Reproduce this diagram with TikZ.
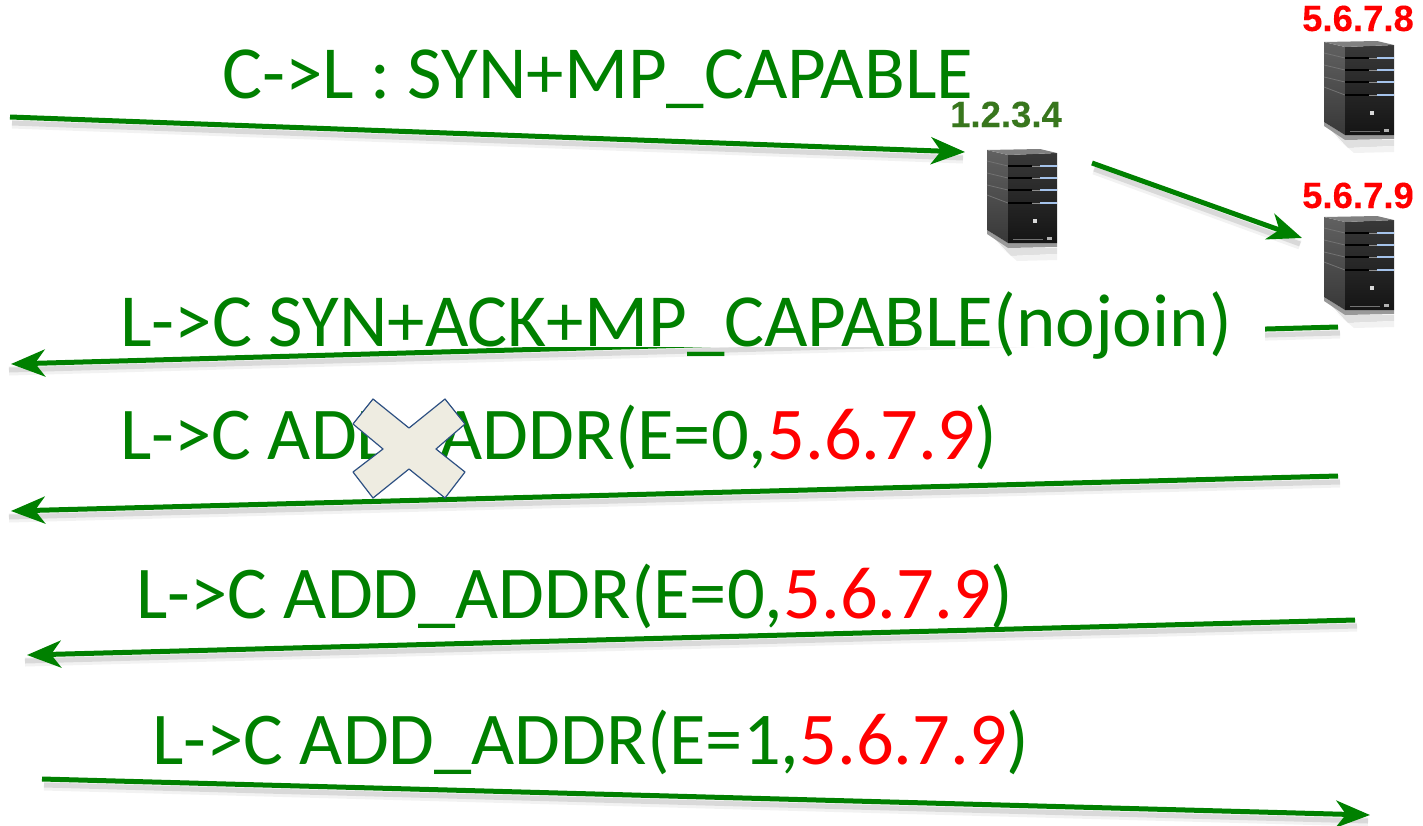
\documentclass[tikz,border=0pt]{standalone}
\usepackage{fontspec}
\setmainfont{Carlito}
\newfontfamily\headfont{Liberation Sans}[FakeBold=0.1]
\usetikzlibrary{arrows.meta,calc}
\definecolor{flowgreen}{RGB}{0,128,0}
\definecolor{ipgreen}{RGB}{56,118,29}
\definecolor{crossfill}{RGB}{238,236,225}
\definecolor{crossline}{RGB}{45,80,130}
\definecolor{slotblue}{RGB}{165,195,235}
\tikzset{
  x=1pt,y=-1pt,
  flow/.style={draw=flowgreen,line width=5pt,-{Stealth[length=34pt,width=27pt,inset=10pt]}},
  shadeA/.style={draw=black,line width=9pt,opacity=.05},
  shadeB/.style={draw=black,line width=5pt,opacity=.10},
  msg/.style={font=\fontsize{75}{75}\selectfont,text=flowgreen,inner sep=0pt,anchor=base west},
  msgadd/.style={msg,font=\fontsize{74.5}{75}\selectfont},
  ipred/.style={font=\headfont\bfseries\fontsize{36.5}{36.5}\selectfont,text=red,inner sep=0pt,anchor=base},
  ipgrn/.style={font=\headfont\bfseries\fontsize{36.5}{36.5}\selectfont,text=ipgreen,inner sep=0pt,anchor=base},
  pics/serverbox/.style={code={
    % reflection
    \fill[black!12] (3,84) -- (21,98) -- (70,98) -- (70,104) -- (24,106) -- cycle;
    \fill[black!5] (8,92) -- (24,106) -- (70,104) -- (70,110) -- (30,111) -- cycle;
    % base
    \fill[black!40] (0,80) -- (21,93) -- (70,93) -- (70,97) -- (21,98) -- (0,84) -- cycle;
    % side, front, top
    \shade[top color=black!62,bottom color=black!78] (0,0) -- (21,5) -- (21,93) -- (0,80) -- cycle;
    \shade[top color=black!78,bottom color=black!92] (21,5) -- (70,3) -- (70,93) -- (21,93) -- cycle;
    \fill[black!50] (0,0) -- (53,-1) -- (70,3) -- (21,5) -- cycle;
    % side seams
    \foreach \yy/\zz in {11/16,23/28,35/40,45/53}
      \draw[black!55,line width=.8pt] (0,\yy) -- (21,\zz);
    % slots
    \foreach \yy in {16,28,40,53} {
      \draw[black,line width=1.3pt] (21,\yy) -- (45,\yy);
      \draw[black!45,line width=1pt] (45,\yy) -- (53,\yy);
      \draw[slotblue,line width=1.5pt] (53,\yy) -- (70,\yy);
    }
    \fill[black!15] (46,69) rectangle (50,73);
    \draw[black!55,line width=.7pt] (26,89) -- (56,89);
    \fill[black!30] (60,87) rectangle (65,90);
  }}
}
\begin{document}
\begin{tikzpicture}
\useasboundingbox (0,0) rectangle (1423,825);

% free ends and server anchors
\coordinate (srvA) at (987,150);
\coordinate (srvB) at (1324,42);
\coordinate (srvC) at (1324,217);
\coordinate (a1s) at (10,117);   \coordinate (a1e) at (965,152);
\coordinate (a2s) at (1092,163); \coordinate (a2e) at (1302,238);
\coordinate (a3s) at (1338,327); \coordinate (a3e) at (11,364);
\coordinate (a4s) at (1338,476); \coordinate (a4e) at (11,511);
\coordinate (a5s) at (1355,620); \coordinate (a5e) at (27,655);
\coordinate (a6s) at (42,779);   \coordinate (a6e) at (1370,815);
\coordinate (maskA) at (110,295); \coordinate (maskB) at (1265,346.5);

% servers
\pic at (srvA) {serverbox};
\pic at (srvB) {serverbox};
\pic at (srvC) {serverbox};

% shadows of the lines
\foreach \p/\q in {a1s/a1e,a2s/a2e,a3s/a3e,a4s/a4e,a5s/a5e,a6s/a6e} {
  \draw[shadeA] ($(\p)+(2,7)$) -- ($(\q)+(-2,7)$);
  \draw[shadeB] ($(\p)+(2,6)$) -- ($(\q)+(-2,6)$);
}

% connectors
\draw[flow] (a1s) -- (a1e);
\draw[flow] (a2s) -- (a2e);
\draw[flow] (a3s) -- (a3e);
\draw[flow] (a4s) -- (a4e);
\draw[flow] (a5s) -- (a5e);
\draw[flow] (a6s) -- (a6e);

% white background of the second label
\fill[white] (maskA) rectangle (maskB);

% labels
\node[msg] (m1) at (222,98) {C->L : SYN+MP\_CAPABLE};
\node[msg] (m2) at (120,346) {L->C SYN+ACK+MP\_CAPABLE(nojoin)};
\node[msgadd] (m3) at (120,459) {L->C ADD\_ADDR(E=0,\textcolor{red}{5.6.7.9})};
\node[msgadd] (m4) at (136,618) {L->C ADD\_ADDR(E=0,\textcolor{red}{5.6.7.9})};
\node[msgadd] (m5) at (152,764) {L->C ADD\_ADDR(E=1,\textcolor{red}{5.6.7.9})};

\node[ipgrn] (ipA) at (1006,127) {1.2.3.4};
\node[ipred] (ipB) at (1358,31) {5.6.7.8};
\node[ipred] (ipC) at (1358,208) {5.6.7.9};

% cross
\draw[draw=crossline,fill=crossfill,line width=1.2pt,line join=round] (353,424) -- (373,399) -- (409,428) -- (445,399) -- (465,424) -- (436,449) -- (465,472) -- (445,498) -- (409,469) -- (373,498) -- (353,472) -- (383,449) -- cycle;
\end{tikzpicture}
\end{document}
